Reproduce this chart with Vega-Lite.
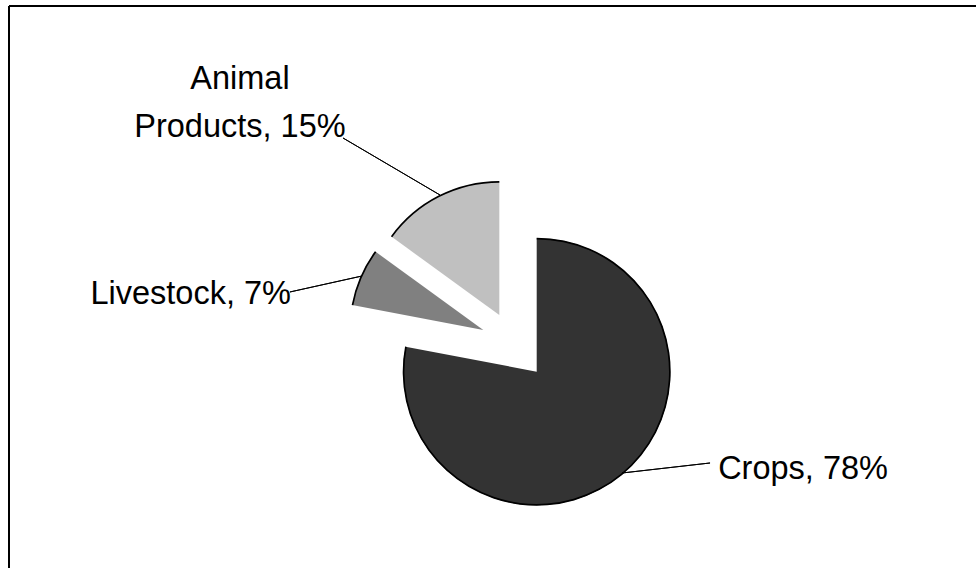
{
  "$schema": "https://vega.github.io/schema/vega-lite/v6.json",
  "width": 977,
  "height": 569,
  "autosize": {"type": "fit", "contains": "padding"},
  "padding": {"left": 8, "top": 5, "right": 0, "bottom": 0},
  "background": "white",
  "config": {
    "view": {"stroke": null, "fill": null},
    "style": {"cell": {"stroke": null}},
    "font": "Liberation Sans",
    "text": {"font": "Liberation Sans"}
  },
  "data": {
    "values": [
      {"category": "Crops", "share": 78, "order": 1, "label": "Crops, 78%"},
      {"category": "Livestock", "share": 7, "order": 2, "label": "Livestock, 7%"},
      {"category": "Animal Products", "share": 15, "order": 3, "label": "Animal\nProducts, 15%"}
    ]
  },
  "transform": [
    {"stack": "share", "groupby": [], "sort": [{"field": "order", "order": "ascending"}], "as": ["s0", "s1"]},
    {"calculate": "(datum.s0 + datum.s1) / 2", "as": "mid"}
  ],
  "layer": [
    {
      "transform": [{"filter": "datum.category === 'Crops'"}],
      "mark": {"type": "rule", "color": "black", "strokeWidth": 2},
      "encoding": {"y": {"value": 0}}
    },
    {
      "transform": [{"filter": "datum.category === 'Crops'"}],
      "mark": {"type": "rule", "color": "black", "strokeWidth": 2},
      "encoding": {"x": {"value": 0}}
    },
    {
      "transform": [{"filter": "datum.category === 'Crops'"}],
      "mark": {"type": "arc", "outerRadius": 133.5, "xOffset": 44.2, "yOffset": 84.7},
      "encoding": {
        "theta": {"field": "s0", "type": "quantitative", "scale": {"domain": [0, 100]}},
        "theta2": {"field": "s1"},
        "color": {"field": "category", "type": "nominal", "scale": {"domain": ["Crops", "Livestock", "Animal Products"], "range": ["#333333", "#808080", "#c0c0c0"]}, "legend": null}
      }
    },
    {
      "transform": [{"filter": "datum.category === 'Crops'"}],
      "mark": {"type": "arc", "outerRadius": 134, "innerRadius": 132.3, "xOffset": 44.2, "yOffset": 84.7, "fill": "black"},
      "encoding": {
        "theta": {"field": "s0", "type": "quantitative", "scale": {"domain": [0, 100]}},
        "theta2": {"field": "s1"}
      }
    },
    {
      "transform": [{"filter": "datum.category === 'Livestock'"}],
      "mark": {"type": "arc", "outerRadius": 133.5, "xOffset": -9.2, "yOffset": 43},
      "encoding": {
        "theta": {"field": "s0", "type": "quantitative", "scale": {"domain": [0, 100]}},
        "theta2": {"field": "s1"},
        "color": {"field": "category", "type": "nominal", "legend": null}
      }
    },
    {
      "transform": [{"filter": "datum.category === 'Livestock'"}],
      "mark": {"type": "arc", "outerRadius": 134, "innerRadius": 132.3, "xOffset": -9.2, "yOffset": 43, "fill": "black"},
      "encoding": {
        "theta": {"field": "s0", "type": "quantitative", "scale": {"domain": [0, 100]}},
        "theta2": {"field": "s1"}
      }
    },
    {
      "transform": [{"filter": "datum.category === 'Animal Products'"}],
      "mark": {"type": "arc", "outerRadius": 133.5, "xOffset": 6.8, "yOffset": 28},
      "encoding": {
        "theta": {"field": "s0", "type": "quantitative", "scale": {"domain": [0, 100]}},
        "theta2": {"field": "s1"},
        "color": {"field": "category", "type": "nominal", "legend": null}
      }
    },
    {
      "transform": [{"filter": "datum.category === 'Animal Products'"}],
      "mark": {"type": "arc", "outerRadius": 134, "innerRadius": 132.3, "xOffset": 6.8, "yOffset": 28, "fill": "black"},
      "encoding": {
        "theta": {"field": "s0", "type": "quantitative", "scale": {"domain": [0, 100]}},
        "theta2": {"field": "s1"}
      }
    },
    {
      "transform": [{"filter": "datum.category === 'Crops'"}],
      "mark": {"type": "arc", "filled": false, "stroke": "black", "strokeWidth": 1, "outerRadius": 88.6, "innerRadius": 0, "thetaOffset": -0.9929, "theta2Offset": -0.9929, "xOffset": 129.5, "yOffset": 186},
      "encoding": {
        "theta": {"field": "mid", "type": "quantitative", "scale": {"domain": [0, 100]}},
        "theta2": {"field": "mid"}
      }
    },
    {
      "transform": [{"filter": "datum.category === 'Livestock'"}],
      "mark": {"type": "arc", "filled": false, "stroke": "black", "strokeWidth": 1, "outerRadius": 73.8, "innerRadius": 0, "thetaOffset": -0.6266, "theta2Offset": -0.6266, "xOffset": -130.5, "yOffset": -11},
      "encoding": {
        "theta": {"field": "mid", "type": "quantitative", "scale": {"domain": [0, 100]}},
        "theta2": {"field": "mid"}
      }
    },
    {
      "transform": [{"filter": "datum.category === 'Animal Products'"}],
      "mark": {"type": "arc", "filled": false, "stroke": "black", "strokeWidth": 1, "outerRadius": 112.5, "innerRadius": 0, "thetaOffset": -0.5682, "theta2Offset": -0.5682, "xOffset": -52.5, "yOffset": -92},
      "encoding": {
        "theta": {"field": "mid", "type": "quantitative", "scale": {"domain": [0, 100]}},
        "theta2": {"field": "mid"}
      }
    },
    {
      "transform": [{"filter": "datum.category === 'Crops'"}],
      "mark": {"type": "text", "fontSize": 32.5, "align": "left", "baseline": "alphabetic", "color": "black", "dx": 59.9, "dy": -8.2},
      "encoding": {
        "theta": {"field": "mid", "type": "quantitative", "scale": {"domain": [0, 100]}},
        "radius": {"value": 260},
        "text": {"field": "label"}
      }
    },
    {
      "transform": [{"filter": "datum.category === 'Livestock'"}],
      "mark": {"type": "text", "fontSize": 32.5, "align": "right", "baseline": "alphabetic", "color": "black", "dx": -35.4, "dy": 88.9},
      "encoding": {
        "theta": {"field": "mid", "type": "quantitative", "scale": {"domain": [0, 100]}},
        "radius": {"value": 181},
        "text": {"field": "label"}
      }
    },
    {
      "transform": [{"filter": "datum.category === 'Animal Products'"}],
      "mark": {"type": "text", "fontSize": 32.5, "align": "center", "baseline": "alphabetic", "lineBreak": "\n", "lineHeight": 48, "color": "black", "dx": -119.5, "dy": 63.1},
      "encoding": {
        "theta": {"field": "mid", "type": "quantitative", "scale": {"domain": [0, 100]}},
        "radius": {"value": 293},
        "text": {"field": "label"}
      }
    }
  ]
}
